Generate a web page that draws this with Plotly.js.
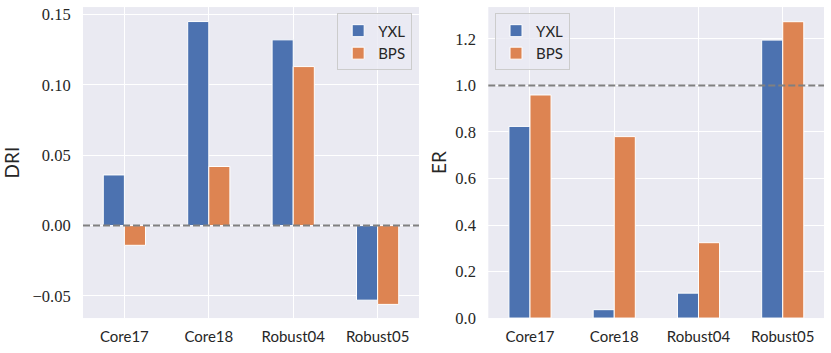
<!DOCTYPE html>
<html>
<head>
<meta charset="utf-8">
<script src="https://cdn.plot.ly/plotly-3.0.1.min.js"></script>
<style>
  html, body { margin: 0; padding: 0; background: #fff; }
  #chart { width: 831px; height: 353px; }
</style>
</head>
<body>
<div id="chart"></div>
<script>
// datasets on the x axis
var categories = ['Core17', 'Core18', 'Robust04', 'Robust05'];

// DRI (left panel)
var driYXL = [0.036, 0.145, 0.132, -0.053];
var driBPS = [-0.014, 0.042, 0.113, -0.056];

// ER (right panel)
var erYXL = [0.824, 0.036, 0.107, 1.195];
var erBPS = [0.959, 0.780, 0.324, 1.274];

var blue = '#4c72b0',
    orange = '#dd8452',
    sans = 'Lato',
    serif = 'Liberation Serif';

function bar(y, name, color, xa, ya, lg) {
  return {
    type: 'bar',
    x: categories,
    y: y,
    name: name,
    xaxis: xa,
    yaxis: ya,
    legend: lg,
    marker: {color: color, line: {color: '#ffffff', width: 1}}
  };
}

var data = [
  bar(driYXL, 'YXL', blue, 'x', 'y', 'legend'),
  bar(driBPS, 'BPS', orange, 'x', 'y', 'legend'),
  bar(erYXL, 'YXL', blue, 'x2', 'y2', 'legend2'),
  bar(erBPS, 'BPS', orange, 'x2', 'y2', 'legend2')
];

var xbase = {
  type: 'category',
  showgrid: true,
  gridcolor: '#ffffff',
  gridwidth: 1,
  zeroline: false,
  showline: false,
  ticks: 'outside',
  ticklen: 5,
  tickcolor: 'rgba(0,0,0,0)',
  tickfont: {family: sans, size: 15, color: '#262626'},
  range: [-0.49, 3.49],
  automargin: false
};

function ybase() {
  return {
    showgrid: true,
    gridcolor: '#ffffff',
    gridwidth: 1,
    zeroline: false,
    showline: false,
    ticks: 'outside',
    ticklen: 8,
    tickcolor: 'rgba(0,0,0,0)',
    tickfont: {family: serif, size: 16.5, color: '#262626'},
    automargin: false
  };
}

var legbase = {
  bgcolor: 'rgba(234,234,242,0.8)',
  bordercolor: '#cccccc',
  borderwidth: 1,
  font: {family: sans, size: 15, color: '#262626'},
  xref: 'paper',
  yref: 'paper',
  yanchor: 'top',
  y: 0.962
};

var yl = ybase();
yl.domain = [0.099, 0.980];
yl.anchor = 'x';
yl.range = [-0.0657, 0.1553];
yl.tickvals = [-0.05, 0, 0.05, 0.1, 0.15];
yl.tickformat = '.2f';
yl.title = {text: 'DRI', font: {family: sans, size: 19, color: '#262626'}, standoff: 8};

var yr = ybase();
yr.domain = [0.099, 0.980];
yr.anchor = 'x2';
yr.range = [0, 1.337];
yr.tickvals = [0, 0.2, 0.4, 0.6, 0.8, 1.0, 1.2];
yr.tickformat = '.1f';
yr.title = {text: 'ER', font: {family: sans, size: 19, color: '#262626'}, standoff: 3};

var layout = {
  width: 831,
  height: 353,
  margin: {l: 0, r: 0, t: 0, b: 0},
  paper_bgcolor: '#ffffff',
  plot_bgcolor: '#eaeaf2',
  barmode: 'group',
  bargap: 0.5,
  bargroupgap: 0,
  xaxis: Object.assign({}, xbase, {domain: [0.0999, 0.5042], anchor: 'y'}),
  xaxis2: Object.assign({}, xbase, {domain: [0.5876, 0.9916], anchor: 'y2', range: [-0.495, 3.49]}),
  yaxis: yl,
  yaxis2: yr,
  legend: Object.assign({}, legbase, {x: 0.496, xanchor: 'right'}),
  legend2: Object.assign({}, legbase, {x: 0.5957, xanchor: 'left'}),
  shapes: [
    {type: 'line', xref: 'x domain', yref: 'y', x0: 0, x1: 1, y0: 0, y1: 0,
     line: {color: '#808080', width: 2, dash: '7px,3px'}},
    {type: 'line', xref: 'x2 domain', yref: 'y2', x0: 0, x1: 1, y0: 1, y1: 1,
     line: {color: '#808080', width: 2, dash: '7px,3px'}}
  ]
};

var config = {displayModeBar: false, staticPlot: true};

Plotly.newPlot('chart', data, layout, config);
</script>
</body>
</html>
